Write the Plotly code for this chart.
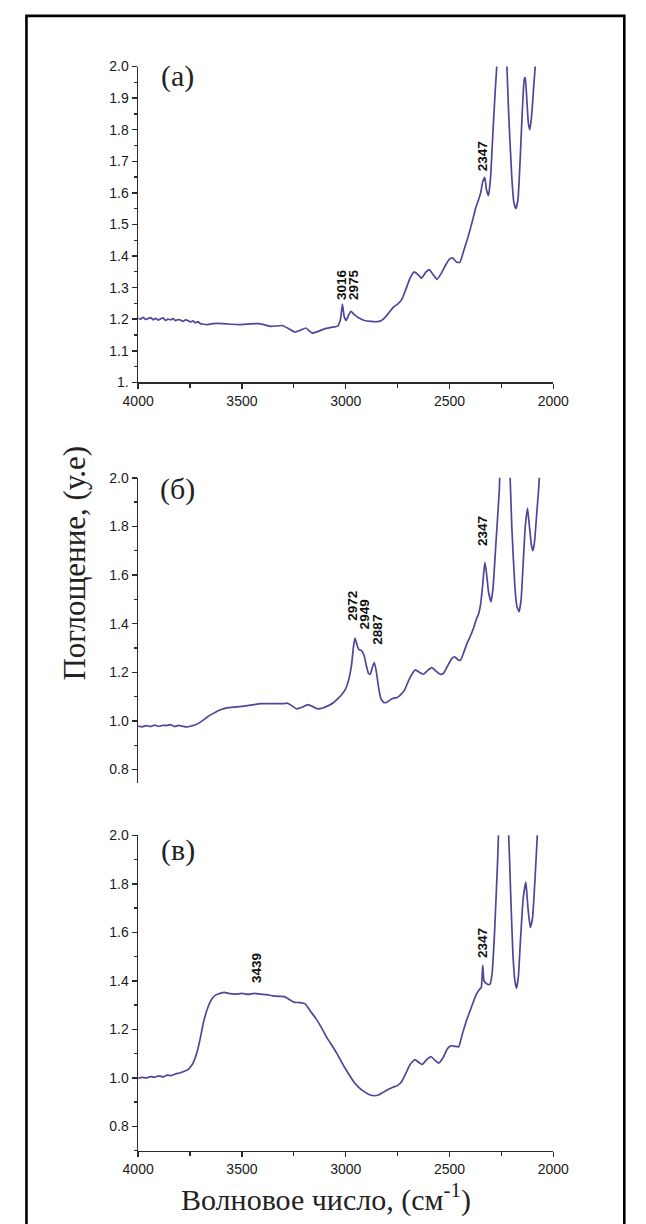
import plotly.graph_objects as go

# ---------------- data ----------------
wn_a = [4000, 3988, 3976, 3964, 3952, 3940, 3928, 3916, 3904, 3892, 3880, 3868, 3856, 3844, 3832,
        3820, 3808, 3796, 3784, 3772, 3760, 3748, 3736, 3724, 3712, 3700, 3685, 3665, 3640,
        3590, 3550, 3512, 3460, 3421, 3390, 3360, 3306, 3275, 3245, 3215, 3192, 3161, 3130, 3100, 3070,
        3039, 3025, 3016, 3008, 2998, 2988, 2975, 2960, 2940, 2910, 2880, 2850, 2830, 2810,
        2790, 2770, 2750, 2730, 2710, 2690, 2670, 2650, 2635, 2615, 2598, 2580, 2560, 2540, 2520,
        2500, 2485, 2465, 2450, 2430, 2410, 2390, 2375, 2360, 2350, 2340, 2330, 2322, 2312, 2302,
        2291, 2280, 2268, 2255, 2240, 2226, 2215, 2200, 2190, 2180, 2170, 2160, 2150, 2140, 2135,
        2128, 2120, 2113, 2105, 2095, 2085, 2078]
abs_a = [1.203, 1.200, 1.206, 1.199, 1.202, 1.205, 1.198, 1.203, 1.197, 1.201, 1.204, 1.196, 1.200, 1.198, 1.202,
         1.195, 1.199, 1.197, 1.193, 1.198, 1.196, 1.191, 1.195, 1.188, 1.192, 1.186, 1.184, 1.183, 1.186,
         1.186, 1.184, 1.183, 1.185, 1.186, 1.182, 1.177, 1.180, 1.170, 1.159, 1.166, 1.172, 1.156, 1.162, 1.170, 1.174,
         1.178, 1.200, 1.248, 1.210, 1.196, 1.210, 1.225, 1.215, 1.205, 1.196, 1.193, 1.192, 1.195, 1.206,
         1.222, 1.238, 1.248, 1.262, 1.295, 1.330, 1.350, 1.340, 1.330, 1.348, 1.357, 1.342, 1.326, 1.345, 1.370,
         1.390, 1.394, 1.380, 1.380, 1.420, 1.462, 1.510, 1.550, 1.578, 1.600, 1.635, 1.649, 1.610, 1.592, 1.650,
         1.790, 1.920, 2.050, 2.300, 2.300, 2.050, 1.850, 1.650, 1.570, 1.550, 1.580, 1.700, 1.850, 1.960, 1.965,
         1.900, 1.820, 1.800, 1.840, 1.930, 2.020, 2.100]

wn_b = [4000, 3980, 3960, 3940, 3920, 3900, 3880, 3863, 3845, 3825, 3805, 3785, 3764, 3745, 3726,
        3700, 3665, 3640, 3619, 3600, 3573, 3540, 3510, 3482, 3450, 3406, 3350, 3299, 3283, 3262,
        3238, 3210, 3184, 3160, 3138, 3110, 3085, 3060, 3039, 3020, 3001, 2985, 2972, 2962, 2955,
        2945, 2935, 2925, 2912,
        2900, 2890, 2882, 2870, 2862, 2852, 2842, 2830, 2815, 2800, 2775, 2755, 2735, 2715, 2695,
        2675, 2664, 2645, 2625, 2605, 2585, 2565, 2545, 2530, 2510, 2490, 2475, 2460, 2447, 2430,
        2415, 2400, 2385, 2370, 2360, 2350, 2340, 2330, 2322, 2312, 2300, 2290, 2275, 2260, 2250,
        2225, 2212, 2200, 2185, 2175, 2165, 2155, 2145, 2135, 2124, 2115, 2105, 2098, 2090, 2080,
        2070, 2064]
abs_b = [0.979, 0.976, 0.981, 0.977, 0.983, 0.978, 0.982, 0.981, 0.985, 0.977, 0.982, 0.978, 0.975, 0.979, 0.983,
         0.995, 1.017, 1.030, 1.040, 1.047, 1.054, 1.057, 1.059, 1.062, 1.066, 1.071, 1.071, 1.071, 1.073, 1.064,
         1.050, 1.056, 1.067, 1.060, 1.050, 1.053, 1.062, 1.075, 1.091, 1.108, 1.131, 1.172, 1.230, 1.310, 1.341,
         1.310, 1.292, 1.290, 1.270,
         1.225, 1.195, 1.192, 1.225, 1.240, 1.200, 1.140, 1.090, 1.075, 1.078, 1.092, 1.095, 1.108, 1.130, 1.170,
         1.200, 1.210, 1.200, 1.192, 1.208, 1.219, 1.205, 1.192, 1.195, 1.225, 1.255, 1.264, 1.252, 1.250, 1.285,
         1.320, 1.348, 1.380, 1.420, 1.440, 1.480, 1.560, 1.652, 1.610, 1.530, 1.490, 1.550, 1.750, 1.950, 2.200,
         2.300, 2.100, 1.800, 1.550, 1.470, 1.449, 1.500, 1.650, 1.800, 1.875, 1.800, 1.720, 1.700, 1.740, 1.850,
         1.960, 2.050]

wn_c = [4000, 3980, 3960, 3940, 3920, 3900, 3880, 3860, 3840, 3820, 3800, 3780, 3760, 3745, 3735,
        3715, 3700, 3685, 3665, 3645, 3625, 3605, 3585, 3560, 3530, 3500, 3470, 3440, 3410, 3380,
        3350, 3320, 3295, 3270, 3250, 3220, 3195, 3170, 3140, 3117, 3090, 3060, 3041, 3010, 2985,
        2966, 2940, 2909, 2885, 2862, 2840, 2820, 2796, 2770, 2749, 2730, 2711, 2690, 2667, 2650,
        2632, 2610, 2588, 2570, 2551, 2530, 2510, 2494, 2475, 2456, 2440, 2419, 2395, 2372, 2355,
        2347, 2340, 2334, 2326, 2315, 2305, 2295, 2283, 2268, 2255, 2235, 2217, 2205, 2195, 2185,
        2177, 2168, 2158, 2145, 2132, 2122, 2111, 2100, 2088, 2074]
abs_c = [0.999, 1.002, 0.999, 1.005, 1.003, 1.008, 1.004, 1.011, 1.009, 1.016, 1.020, 1.026, 1.034, 1.048, 1.062,
         1.110, 1.166, 1.230, 1.288, 1.325, 1.342, 1.348, 1.352, 1.347, 1.345, 1.348, 1.344, 1.348, 1.345, 1.343,
         1.338, 1.336, 1.335, 1.322, 1.312, 1.310, 1.305, 1.275, 1.240, 1.207, 1.165, 1.125, 1.098, 1.050, 1.015,
         0.989, 0.963, 0.942, 0.930, 0.926, 0.930, 0.940, 0.952, 0.962, 0.969, 0.985, 1.017, 1.055, 1.075, 1.065,
         1.055, 1.075, 1.087, 1.072, 1.061, 1.085, 1.120, 1.132, 1.130, 1.128, 1.175, 1.234, 1.290, 1.342, 1.365,
         1.372, 1.464, 1.400, 1.392, 1.385, 1.386, 1.430, 1.600, 1.900, 2.200, 2.300, 2.050, 1.750, 1.520, 1.400,
         1.369, 1.420, 1.570, 1.740, 1.807, 1.700, 1.620, 1.660, 1.820, 2.050]

# tick labels
x_tickvals = [4000, 3500, 3000, 2500, 2000]
x_ticktext = ["4000", "3500", "3000", "2500", "2000"]
ya_tickvals = [2.0, 1.9, 1.8, 1.7, 1.6, 1.5, 1.4, 1.3, 1.2, 1.1, 1.0]
ya_ticktext = ["2.0", "1.9", "1.8", "1.7", "1.6", "1.5", "1.4", "1.3", "1.2", "1.1", "1."]
ybc_tickvals = [2.0, 1.8, 1.6, 1.4, 1.2, 1.0, 0.8]
ybc_ticktext = ["2.0", "1.8", "1.6", "1.4", "1.2", "1.0", "0.8"]

# peak labels: (panel, wavenumber position, absorbance position, text)
peak_labels = [
    ("a", 3020, 1.310, "3016"),
    ("a", 2962, 1.310, "2975"),
    ("a", 2340, 1.715, "2347"),
    ("b", 2968, 1.475, "2972"),
    ("b", 2905, 1.440, "2949"),
    ("b", 2845, 1.375, "2887"),
    ("b", 2340, 1.780, "2347"),
    ("c", 3430, 1.455, "3439"),
    ("c", 2340, 1.555, "2347"),
]
panel_names = ["(a)", "(б)", "(в)"]

# ---------------- figure ----------------
W, H = 646, 1224
LINE = "#53439a"
AX = "#2a2a2a"
SERIF = "Liberation Serif, Times New Roman, serif"
SANS = "Liberation Sans, Arial, sans-serif"

fig = go.Figure()
for wn, ab, xa, ya in [(wn_a, abs_a, "x", "y"), (wn_b, abs_b, "x2", "y2"), (wn_c, abs_c, "x3", "y3")]:
    fig.add_trace(go.Scatter(x=wn, y=ab, xaxis=xa, yaxis=ya, mode="lines",
                             line=dict(color=LINE, width=1.7, shape="spline", smoothing=0.4),
                             showlegend=False, hoverinfo="skip"))

xdom = [128.5 / W, 565.3 / W]


def ydom(top_px, bot_px):
    return [1 - bot_px / H, 1 - top_px / H]


common_axis = dict(showline=True, linecolor=AX, linewidth=1.6, ticks="outside", ticklen=5,
                   tickwidth=1.5, tickcolor=AX, showgrid=False, zeroline=False,
                   tickfont=dict(family=SANS, size=14, color="#1a1a1a"))

xshow = dict(common_axis, range=[4000, 2000], tickvals=x_tickvals, ticktext=x_ticktext,
             minor=dict(dtick=250, ticklen=4, tickwidth=1.3, tickcolor=AX, ticks="outside"))
xhide = dict(range=[4000, 2000], showline=False, showticklabels=False, ticks="",
             showgrid=False, zeroline=False)

fig.update_layout(
    width=W, height=H, autosize=False, margin=dict(l=0, r=0, t=0, b=0, pad=0),
    paper_bgcolor="white", plot_bgcolor="white",
    xaxis=dict(xshow, domain=xdom, anchor="y"),
    yaxis=dict(common_axis, domain=ydom(59.3, 379.3), range=[1.0, 2.0], anchor="x",
               tickvals=ya_tickvals, ticktext=ya_ticktext,
               minor=dict(dtick=0.05, ticklen=3, tickwidth=1.3, tickcolor=AX, ticks="outside")),
    xaxis2=dict(xhide, domain=xdom, anchor="y2"),
    yaxis2=dict(common_axis, domain=ydom(476, 785.7), range=[0.743, 2.0], anchor="x2",
                tickvals=ybc_tickvals, ticktext=ybc_ticktext,
                minor=dict(dtick=0.1, ticklen=3, tickwidth=1.3, tickcolor=AX, ticks="outside")),
    xaxis3=dict(xshow, domain=xdom, anchor="y3"),
    yaxis3=dict(common_axis, domain=ydom(838.3, 1157.7), range=[0.7, 2.0], anchor="x3",
                tickvals=ybc_tickvals, ticktext=ybc_ticktext,
                minor=dict(dtick=0.1, ticklen=3, tickwidth=1.3, tickcolor=AX, ticks="outside")),
)

refs = {"a": ("x", "y"), "b": ("x2", "y2"), "c": ("x3", "y3")}
annotations = []
for panel, xv, yv, txt in peak_labels:
    xr, yr = refs[panel]
    annotations.append(dict(x=xv, y=yv, xref=xr, yref=yr, text="<b>%s</b>" % txt, showarrow=False,
                            textangle=-90, font=dict(family=SANS, size=13.5, color="#111"),
                            xanchor="center", yanchor="middle"))

# panel letters
for name, ypx in zip(panel_names, [69, 487, 853]):
    annotations.append(dict(x=170 / W, y=1 - ypx / H, xref="paper", yref="paper", text=name,
                            showarrow=False, font=dict(family=SERIF, size=30, color="#222"),
                            xanchor="center", yanchor="middle"))

annotations.append(dict(x=62 / W, y=1 - 562 / H, xref="paper", yref="paper",
                        text="Поглощение, (у.е)", textangle=-90, showarrow=False,
                        font=dict(family=SERIF, size=31, color="#222"),
                        xanchor="center", yanchor="middle"))
annotations.append(dict(x=326 / W, y=1 - 1205 / H, xref="paper", yref="paper",
                        text="Волновое число, (см<sup>-1</sup>)", showarrow=False,
                        font=dict(family=SERIF, size=30, color="#222"),
                        xanchor="center", yanchor="middle"))
fig.update_layout(annotations=annotations)

fig.add_shape(type="rect", xref="paper", yref="paper", x0=11 / W, x1=640 / W,
              y0=-0.01, y1=1 - 8 / H, line=dict(color="black", width=2.6), fillcolor="rgba(0,0,0,0)")

fig.write_html("out.html",
               config={"displayModeBar": False, "responsive": False, "staticPlot": True},
               post_script="document.body.style.margin='0';document.body.style.overflow='hidden';")
